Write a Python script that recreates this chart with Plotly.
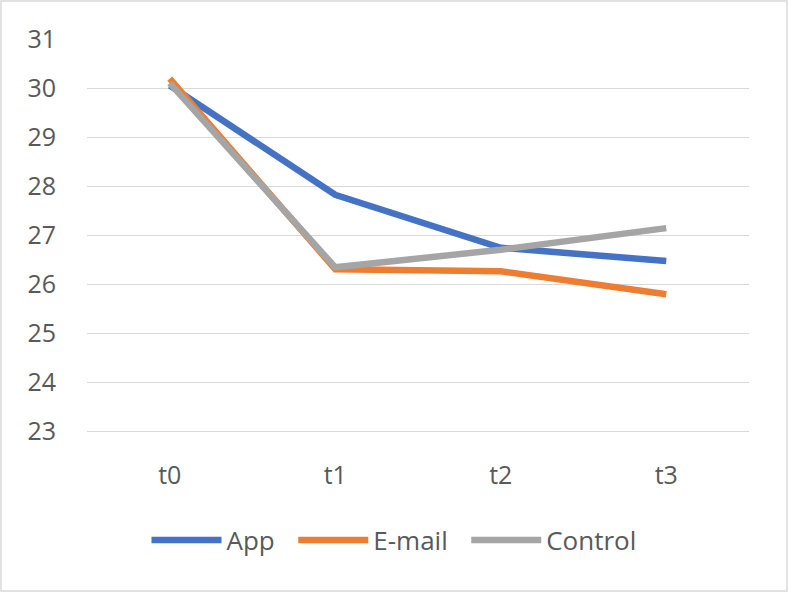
import plotly.graph_objects as go

categories = ["t0", "t1", "t2", "t3"]
app = [30.05, 27.82, 26.74, 26.47]
email = [30.19, 26.3, 26.26, 25.79]
control = [30.1, 26.34, 26.7, 27.14]
names = ["App", "E-mail", "Control"]

W, H = 788, 592
L, R, T, B = 87, 39, 39, 161
pw, ph = W - L - R, H - T - B

fig = go.Figure()
pad = "\u00a0\u00a0"
for i, (name, vals, col) in enumerate(zip(names, [app, email, control], ["#4472C4", "#ED7D31", "#A5A5A5"])):
    label = name + (pad if i < len(names) - 1 else "")
    fig.add_trace(go.Scatter(x=categories, y=vals, name=label, mode="lines",
                             line=dict(color=col, width=6.5)))

font = dict(family="Open Sans, Liberation Sans, sans-serif", size=25, color="#595959")
lfont = dict(family="Open Sans, Liberation Sans, sans-serif", size=26, color="#595959")
fig.update_layout(
    width=W, height=H,
    margin=dict(l=L, r=R, t=T, b=B),
    paper_bgcolor="white", plot_bgcolor="white",
    font=font,
    xaxis=dict(type="category", range=[-0.5, 3.5], showgrid=False,
               showline=True, linecolor="#D9D9D9", linewidth=1,
               zeroline=False, ticks="", ticklabelstandoff=22, tickfont=font),
    yaxis=dict(range=[23, 31], dtick=1, showgrid=True, gridcolor="#D9D9D9", gridwidth=1,
               zeroline=False, showline=False, ticks="", ticklabelstandoff=30, tickfont=font),
    legend=dict(orientation="h", x=(W / 2 - L) / pw, xanchor="center", y=-109 / ph, yanchor="middle",
                itemwidth=70, font=lfont, bgcolor="rgba(0,0,0,0)"),
    showlegend=True,
    shapes=[dict(type="rect", xref="paper", yref="paper",
                 x0=(1 - L) / pw, x1=(W - 1 - L) / pw,
                 y0=-(H - 1 - T - ph) / ph, y1=1 + (T - 1) / ph,
                 line=dict(color="#D9D9D9", width=1.5), layer="below")],
)
fig.write_html("out.html", config={"displayModeBar": False},
               post_script="document.body.style.margin='0';")
